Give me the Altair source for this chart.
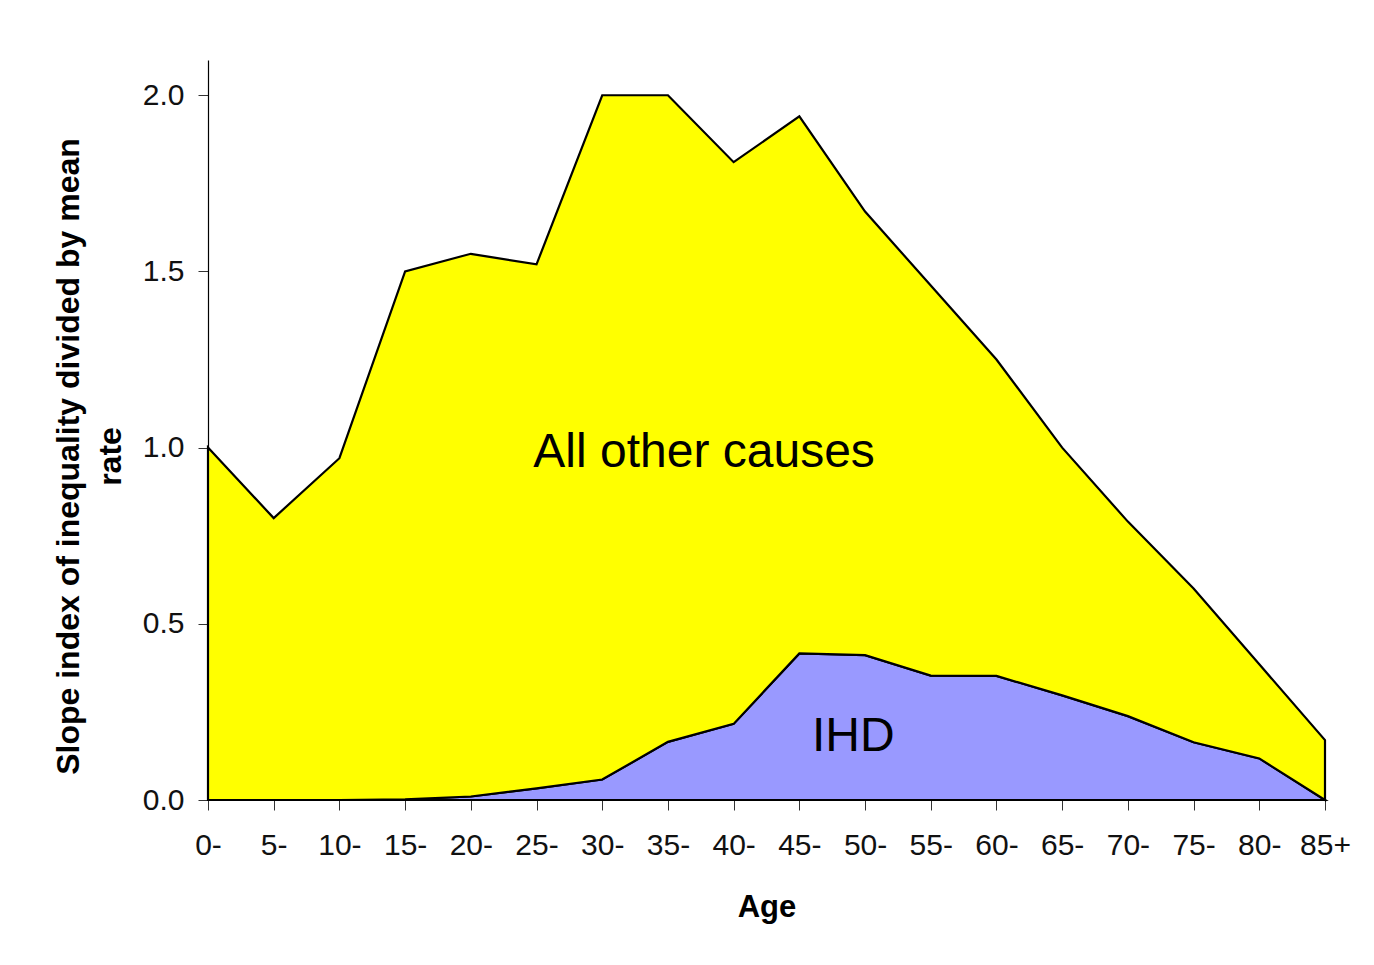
import altair as alt
import pandas as pd

AGES = ["0-", "5-", "10-", "15-", "20-", "25-", "30-", "35-", "40-",
        "45-", "50-", "55-", "60-", "65-", "70-", "75-", "80-", "85+"]
IHD = [0.0, 0.0, 0.0, 0.002, 0.01, 0.033, 0.058, 0.165, 0.216,
       0.416, 0.411, 0.353, 0.352, 0.297, 0.238, 0.164, 0.118, 0.0]
OTHER = [1.00, 0.80, 0.97, 1.498, 1.54, 1.487, 1.942, 1.835, 1.594,
         1.524, 1.259, 1.107, 0.898, 0.703, 0.552, 0.436, 0.267, 0.17]
SERIES = ["IHD", "All other causes"]
COLORS = ["#9999FF", "#FFFF00"]

LABELS = ["All other causes", "IHD"]
LABEL_X = [7.55, 9.82]
LABEL_Y = [0.985, 0.179]

FONT = "Liberation Sans"

rows = []
for i, a in enumerate(AGES):
    rows.append({"idx": i, "age": a, "series": SERIES[0], "ord": 0, "value": IHD[i]})
    rows.append({"idx": i, "age": a, "series": SERIES[1], "ord": 1, "value": OTHER[i]})
df = pd.DataFrame(rows)

lab = pd.DataFrame({"idx": LABEL_X, "value": LABEL_Y, "text": LABELS})

label_expr = "[" + ",".join("'" + a + "'" for a in AGES) + "][datum.value]"

X_SCALE = alt.Scale(domain=[0, len(AGES) - 1], nice=False, zero=False)
Y_SCALE = alt.Scale(domain=[0, 2.1], nice=False)

X_AXIS = alt.Axis(
    values=list(range(len(AGES))), labelExpr=label_expr, title="Age",
    grid=False, tickSize=10, labelPadding=20, labelFontSize=30,
    labelOverlap=False, labelFlush=False, labelBound=False,
    titleFontSize=31, titleFontWeight="bold", titlePadding=32,
    labelAngle=0,
)
Y_AXIS = alt.Axis(
    values=[0, 0.5, 1.0, 1.5, 2.0], format=".1f", grid=False,
    tickSize=10, labelPadding=14, labelFontSize=30,
    labelOverlap=False, labelFlush=False,
    title=["Slope index of inequality divided by mean", "rate"],
    titleFontSize=32, titleFontWeight="bold", titleAngle=270,
    titleX=-140, titleY=396, titleAlign="center", titleBaseline="middle",
    titleLineHeight=42,
)

area = alt.Chart(df).mark_area(
    stroke="black", strokeWidth=2.2, strokeJoin="miter", opacity=1, fillOpacity=1
).encode(
    x=alt.X("idx:Q", scale=X_SCALE, axis=X_AXIS),
    y=alt.Y("value:Q", stack="zero", scale=Y_SCALE, axis=Y_AXIS),
    color=alt.Color("series:N", scale=alt.Scale(domain=SERIES, range=COLORS), legend=None),
    order=alt.Order("ord:Q"),
)

text = alt.Chart(lab).mark_text(
    font=FONT, fontSize=48, color="black", align="center", baseline="middle"
).encode(
    x=alt.X("idx:Q", scale=X_SCALE, axis=X_AXIS),
    y=alt.Y("value:Q", scale=Y_SCALE, axis=Y_AXIS),
    text="text:N",
)

chart = alt.layer(area, text).properties(
    width=1117, height=740,
    autosize=alt.AutoSizeParams(type="none"),
    padding={"left": 200, "top": 52, "right": 40, "bottom": 150},
    background="white",
).configure_view(stroke=None).configure_axis(
    labelFont=FONT, titleFont=FONT, labelColor="#111111", titleColor="black",
    domainColor="black", domainWidth=1.2, tickColor="#333333", tickWidth=1,
)

chart.save("out.html", embed_options={"renderer": "svg", "actions": False})
